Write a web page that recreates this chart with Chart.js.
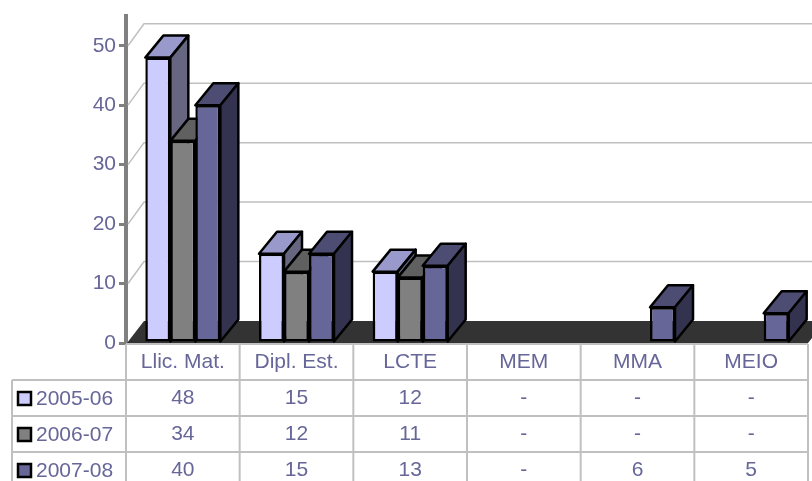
<!DOCTYPE html>
<html>
<head>
<meta charset="utf-8">
<script src="https://cdn.jsdelivr.net/npm/chart.js@4"></script>
<style>
  html, body { margin: 0; padding: 0; background: #fff; }
  #wrap { width: 812px; height: 481px; }
</style>
</head>
<body>
<div id="wrap"><canvas id="barChart" width="812" height="481"></canvas></div>
<script>
var categories = ["Llic. Mat.", "Dipl. Est.", "LCTE", "MEM", "MMA", "MEIO"];
var seriesNames = ["2005-06", "2006-07", "2007-08"];
var values0506 = [48, 15, 12, null, null, null];
var values0607 = [34, 12, 11, null, null, null];
var values0708 = [40, 15, 13, null, 6, 5];
var yTicks = [0, 10, 20, 30, 40, 50];

var frontColors = ["#CCCCFF", "#808080", "#666699"];
var topColors = ["#9999CC", "#606060", "#4D4D73"];
var sideColors = ["#666680", "#404040", "#333350"];
var textColor = "#666699";
var fontFam = "'Liberation Sans', Arial, sans-serif";

// depth of the fake 3d
var DX = 18, DY = -22;

var backdrop = {
  id: 'backdrop',
  beforeDatasetsDraw: function(chart) {
    var c = chart.ctx, a = chart.chartArea, y = chart.scales.y;
    c.save();
    c.strokeStyle = '#C0C0C0';
    c.lineWidth = 1.5;
    yTicks.forEach(function(v) {
      if (v === 0) return;
      var py = y.getPixelForValue(v);
      c.beginPath();
      c.moveTo(a.left + 2, py);
      c.lineTo(a.left + DX, py + DY);
      c.lineTo(chart.width, py + DY);
      c.stroke();
    });
    // floor
    c.fillStyle = '#333333';
    c.beginPath();
    c.moveTo(a.left + 1, a.bottom);
    c.lineTo(a.right, a.bottom);
    c.lineTo(a.right + DX, a.bottom + DY);
    c.lineTo(a.left + DX, a.bottom + DY);
    c.closePath();
    c.fill();
    c.restore();
  },
  // chart.js paints datasets last-to-first; skip that and paint left-to-right below
  beforeDatasetDraw: function() { return false; },
  afterDatasetsDraw: function(chart) {
    var c = chart.ctx;
    chart.data.datasets.forEach(function(ds, i) {
      var meta = chart.getDatasetMeta(i);
      meta.data.forEach(function(el, k) {
        var val = ds.data[k];
        if (val === null || val === undefined) return;
        var p = el.getProps(['x', 'y', 'base', 'width'], true);
        var L = p.x - p.width / 2, R = p.x + p.width / 2;
        c.save();
        c.strokeStyle = '#000';
        c.lineWidth = 2.5;
        c.lineJoin = 'round';
        // top face
        c.fillStyle = topColors[i];
        c.beginPath();
        c.moveTo(L, p.y); c.lineTo(R, p.y);
        c.lineTo(R + DX, p.y + DY); c.lineTo(L + DX, p.y + DY);
        c.closePath(); c.fill(); c.stroke();
        // side face
        c.fillStyle = sideColors[i];
        c.beginPath();
        c.moveTo(R, p.y); c.lineTo(R + DX, p.y + DY);
        c.lineTo(R + DX, p.base + DY); c.lineTo(R, p.base);
        c.closePath(); c.fill(); c.stroke();
        c.restore();
        // front face by the bar element itself
        el.draw(c, chart.chartArea);
      });
    });
  },
  afterDraw: function(chart) {
    var c = chart.ctx, a = chart.chartArea, x = chart.scales.x;
    var colW = (a.right - a.left) / categories.length;
    var top = a.bottom + 1, rowH = 36;
    var legLeft = 12;
    var rows = [values0506, values0607, values0708];
    c.save();
    c.strokeStyle = '#C0C0C0';
    c.lineWidth = 2;
    c.beginPath();
    c.moveTo(a.left, top); c.lineTo(a.right, top);
    for (var r = 1; r <= 3; r++) {
      c.moveTo(legLeft, top + r * rowH); c.lineTo(a.right, top + r * rowH);
    }
    for (var k = 0; k <= categories.length; k++) {
      var vx = a.left + k * colW;
      c.moveTo(vx, top); c.lineTo(vx, chart.height);
    }
    c.moveTo(legLeft, top + rowH); c.lineTo(legLeft, chart.height);
    c.stroke();

    c.fillStyle = textColor;
    c.font = '21px ' + fontFam;
    c.textAlign = 'center';
    c.textBaseline = 'middle';
    categories.forEach(function(cat, k) {
      var cx = x.getPixelForValue(k);
      c.fillText(cat, cx, top + rowH / 2);
      rows.forEach(function(row, r) {
        var v = row[k];
        c.fillText(v === null ? '-' : String(v), cx, top + rowH * (r + 1.5));
      });
    });
    // legend keys
    seriesNames.forEach(function(name, r) {
      var cy = top + rowH * (r + 1.5);
      c.fillStyle = frontColors[r];
      c.fillRect(18, cy - 6, 13, 13);
      c.strokeStyle = '#000';
      c.lineWidth = 2.5;
      c.strokeRect(18, cy - 6, 13, 13);
      c.fillStyle = textColor;
      c.textAlign = 'left';
      c.fillText(name, 36, cy + 1);
    });
    c.restore();
  }
};

new Chart(document.getElementById('barChart'), {
  type: 'bar',
  data: {
    labels: categories,
    datasets: [
      { label: seriesNames[0], data: values0506, backgroundColor: frontColors[0] },
      { label: seriesNames[1], data: values0607, backgroundColor: frontColors[1] },
      { label: seriesNames[2], data: values0708, backgroundColor: frontColors[2] }
    ]
  },
  options: {
    responsive: false,
    animation: false,
    devicePixelRatio: 1,
    layout: { padding: { top: 16, right: 4, bottom: 138, left: 0 } },
    datasets: {
      bar: {
        categoryPercentage: 0.66,
        barPercentage: 1.0,
        borderColor: '#000',
        borderWidth: 2.5,
        borderSkipped: false
      }
    },
    plugins: {
      legend: { display: false },
      tooltip: { enabled: false }
    },
    scales: {
      x: { display: false },
      y: {
        min: 0,
        max: 55,
        afterBuildTicks: function(scale) {
          scale.ticks = yTicks.map(function(v) { return { value: v }; });
        },
        afterFit: function(scale) { scale.width = 126; },
        ticks: {
          stepSize: 10,
          padding: 3,
          color: textColor,
          font: { size: 21, family: fontFam }
        },
        grid: {
          drawOnChartArea: false,
          tickLength: 7,
          color: '#808080',
          lineWidth: 3
        },
        border: { color: '#808080', width: 4 }
      }
    }
  },
  plugins: [backdrop]
});
</script>
</body>
</html>
